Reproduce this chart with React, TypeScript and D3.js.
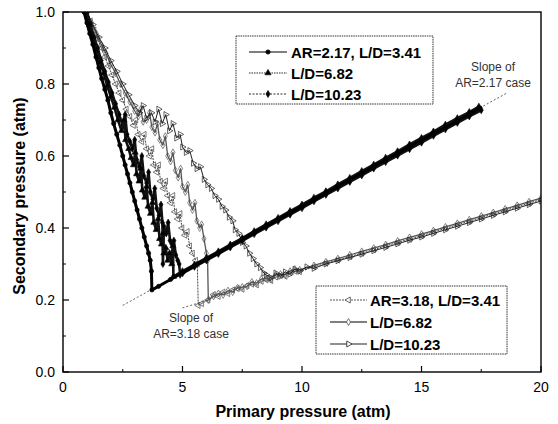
import React, { useEffect, useRef } from "react";
import * as d3 from "d3";

// axis ticks
const xTicks = [0, 5, 10, 15, 20];
const xMinor = [2.5, 7.5, 12.5, 17.5];
const yTicks = [0, 0.2, 0.4, 0.6, 0.8, 1.0];
const yMinor = [0.1, 0.3, 0.5, 0.7, 0.9];

const legendTop = ["AR=2.17, L/D=3.41", "L/D=6.82", "L/D=10.23"];
const legendBottom = ["AR=3.18, L/D=3.41", "L/D=6.82", "L/D=10.23"];

// AR=2.17 series [primary, secondary]
const ar217Ld341 = [
    [0.88, 1.0], [1.0, 0.97], [1.12, 0.94], [1.25, 0.91], [1.38, 0.875], [1.5, 0.845], [1.62, 0.815], [1.75, 0.785],
    [1.88, 0.755], [2.0, 0.72], [2.12, 0.69], [2.25, 0.66], [2.38, 0.63], [2.5, 0.6], [2.6, 0.575], [2.7, 0.55],
    [2.8, 0.525], [2.9, 0.5], [3.0, 0.475], [3.1, 0.45], [3.2, 0.425], [3.3, 0.4], [3.4, 0.375], [3.5, 0.35],
    [3.58, 0.33], [3.65, 0.31], [3.7, 0.28], [3.72, 0.228],
    [4.0, 0.238], [4.5, 0.257], [5, 0.276], [5.5, 0.295], [6, 0.313], [6.5, 0.331], [7, 0.35], [7.5, 0.368],
    [8, 0.387], [8.5, 0.405], [9, 0.424], [9.5, 0.442], [10, 0.46], [10.5, 0.479], [11, 0.497], [11.5, 0.516],
    [12, 0.534], [12.5, 0.552], [13, 0.571], [13.5, 0.589], [14, 0.607], [14.5, 0.626], [15, 0.644], [15.5, 0.662],
    [16, 0.68], [16.5, 0.698], [17, 0.716], [17.45, 0.733]
];
const ar217Ld682 = [
    [0.95, 1.0], [1.1, 0.965], [1.25, 0.93], [1.4, 0.895], [1.55, 0.86], [1.7, 0.83], [1.85, 0.795], [2.0, 0.765],
    [2.15, 0.735], [2.3, 0.7], [2.45, 0.67], [2.55, 0.7], [2.62, 0.645], [2.75, 0.62], [2.85, 0.595], [2.95, 0.575],
    [3.02, 0.61], [3.08, 0.55], [3.18, 0.53], [3.26, 0.565], [3.32, 0.505], [3.42, 0.485], [3.5, 0.515], [3.56, 0.46],
    [3.66, 0.44], [3.74, 0.47], [3.8, 0.415], [3.9, 0.395], [3.98, 0.425], [4.04, 0.37], [4.12, 0.355], [4.18, 0.385],
    [4.22, 0.33], [4.3, 0.345], [4.38, 0.31], [4.46, 0.33], [4.55, 0.3], [4.6, 0.35], [4.62, 0.265],
    [5, 0.28], [5.5, 0.298], [6, 0.317], [6.5, 0.335], [7, 0.354], [7.5, 0.372], [8, 0.391], [8.5, 0.41],
    [9, 0.428], [9.5, 0.447], [10, 0.465], [10.5, 0.484], [11, 0.502], [11.5, 0.521], [12, 0.539], [12.5, 0.558],
    [13, 0.576], [13.5, 0.595], [14, 0.613], [14.5, 0.632], [15, 0.65], [15.5, 0.668], [16, 0.687], [16.5, 0.705],
    [17, 0.722], [17.4, 0.737]
];
const ar217Ld1023 = [
    [1.0, 1.0], [1.15, 0.965], [1.3, 0.93], [1.45, 0.9], [1.6, 0.865], [1.75, 0.835], [1.9, 0.805], [2.05, 0.775],
    [2.2, 0.745], [2.35, 0.715], [2.5, 0.685], [2.6, 0.715], [2.68, 0.66], [2.8, 0.64], [2.9, 0.62], [3.0, 0.645],
    [3.08, 0.59], [3.2, 0.57], [3.3, 0.6], [3.38, 0.545], [3.5, 0.525], [3.58, 0.555], [3.65, 0.5], [3.76, 0.48],
    [3.84, 0.51], [3.92, 0.455], [4.02, 0.435], [4.1, 0.465], [4.16, 0.415], [4.18, 0.3], [4.22, 0.405], [4.32, 0.385],
    [4.4, 0.415], [4.48, 0.365], [4.56, 0.355], [4.6, 0.335], [4.64, 0.365], [4.72, 0.325], [4.8, 0.31], [4.86, 0.3],
    [4.9, 0.27], [5.0, 0.274],
    [5.5, 0.292], [6, 0.31], [6.5, 0.328], [7, 0.346], [7.5, 0.364], [8, 0.383], [8.5, 0.401], [9, 0.419],
    [9.5, 0.437], [10, 0.455], [10.5, 0.474], [11, 0.492], [11.5, 0.51], [12, 0.528], [12.5, 0.546], [13, 0.565],
    [13.5, 0.583], [14, 0.601], [14.5, 0.619], [15, 0.637], [15.5, 0.656], [16, 0.674], [16.5, 0.692], [17, 0.71],
    [17.5, 0.727]
];

// AR=3.18 series
const ar318Ld341 = [
    [1.0, 1.0], [1.15, 0.975], [1.3, 0.95], [1.45, 0.925], [1.6, 0.9], [1.75, 0.875], [1.9, 0.85], [2.05, 0.825],
    [2.2, 0.8], [2.35, 0.775], [2.5, 0.755], [2.65, 0.73], [2.8, 0.71], [2.95, 0.685], [3.05, 0.7], [3.15, 0.66],
    [3.3, 0.64], [3.4, 0.66], [3.5, 0.62], [3.62, 0.6], [3.72, 0.62], [3.8, 0.575], [3.92, 0.555], [4.0, 0.575],
    [4.08, 0.53], [4.2, 0.51], [4.3, 0.53], [4.38, 0.49], [4.5, 0.47], [4.6, 0.49], [4.68, 0.445], [4.8, 0.425],
    [4.9, 0.44], [4.98, 0.4], [5.1, 0.38], [5.2, 0.39], [5.3, 0.35], [5.42, 0.33], [5.55, 0.31], [5.62, 0.3],
    [5.66, 0.185], [5.8, 0.19], [6.07, 0.2],
    [6.3, 0.215], [6.5, 0.21], [6.7, 0.222], [6.9, 0.218], [7.1, 0.228], [7.3, 0.232], [7.5, 0.23], [7.7, 0.24],
    [7.9, 0.244], [8.1, 0.242], [8.3, 0.252], [8.5, 0.256], [8.7, 0.254], [8.9, 0.264], [9.1, 0.268], [9.3, 0.266],
    [9.5, 0.276], [9.7, 0.28], [9.9, 0.279], [10.5, 0.292], [11, 0.302], [11.5, 0.311], [12, 0.321], [12.5, 0.33],
    [13, 0.34], [13.5, 0.35], [14, 0.36], [14.5, 0.369], [15, 0.379], [15.5, 0.389], [16, 0.399], [16.5, 0.409],
    [17, 0.419], [17.5, 0.429], [18, 0.439], [18.5, 0.449], [19, 0.459], [19.5, 0.469], [20, 0.479]
];
const ar318Ld682 = [
    [1.0, 1.0], [1.2, 0.97], [1.4, 0.94], [1.6, 0.91], [1.8, 0.885], [2.0, 0.855], [2.2, 0.83], [2.4, 0.8],
    [2.6, 0.775], [2.8, 0.75], [3.0, 0.725], [3.15, 0.71], [3.25, 0.73], [3.35, 0.695], [3.5, 0.7], [3.62, 0.72],
    [3.72, 0.68], [3.85, 0.665], [3.95, 0.69], [4.05, 0.645], [4.18, 0.63], [4.28, 0.655], [4.38, 0.6], [4.5, 0.585],
    [4.6, 0.61], [4.7, 0.56], [4.82, 0.54], [4.92, 0.565], [5.0, 0.515], [5.12, 0.5], [5.22, 0.52], [5.3, 0.47],
    [5.42, 0.45], [5.52, 0.47], [5.6, 0.42], [5.72, 0.4], [5.8, 0.41], [5.9, 0.37], [6.0, 0.33], [6.05, 0.31],
    [6.08, 0.2],
    [6.3, 0.21], [6.5, 0.218], [6.7, 0.214], [6.9, 0.226], [7.1, 0.222], [7.3, 0.234], [7.5, 0.236], [7.7, 0.238],
    [7.9, 0.25], [8.1, 0.247], [8.3, 0.258], [8.5, 0.26], [8.7, 0.258], [8.9, 0.27], [9.1, 0.272], [9.3, 0.27],
    [9.5, 0.28], [9.7, 0.286], [9.9, 0.284], [10.5, 0.296], [11, 0.306], [11.5, 0.315], [12, 0.325], [12.5, 0.335],
    [13, 0.344], [13.5, 0.354], [14, 0.364], [14.5, 0.374], [15, 0.383], [15.5, 0.393], [16, 0.403], [16.5, 0.413],
    [17, 0.423], [17.5, 0.433], [18, 0.443], [18.5, 0.453], [19, 0.463], [19.5, 0.473], [20, 0.483]
];
const ar318Ld1023 = [
    [1.0, 1.0], [1.25, 0.965], [1.5, 0.93], [1.75, 0.9], [2.0, 0.865], [2.25, 0.835], [2.5, 0.8], [2.75, 0.77],
    [3.0, 0.74], [3.2, 0.72], [3.35, 0.74], [3.5, 0.705], [3.7, 0.72], [3.85, 0.695], [4.0, 0.73], [4.15, 0.69],
    [4.3, 0.715], [4.45, 0.67], [4.6, 0.69], [4.75, 0.65], [4.9, 0.66], [5.0, 0.625], [5.15, 0.61], [5.3, 0.615],
    [5.45, 0.58], [5.6, 0.565], [5.75, 0.57], [5.9, 0.535], [6.05, 0.52], [6.2, 0.51], [6.35, 0.49], [6.5, 0.48],
    [6.65, 0.46], [6.8, 0.45], [6.95, 0.43], [7.1, 0.42], [7.2, 0.395], [7.35, 0.385], [7.5, 0.36], [7.65, 0.35],
    [7.8, 0.33], [7.95, 0.315], [8.1, 0.3], [8.25, 0.29], [8.4, 0.275], [8.5, 0.27],
    [8.7, 0.262], [8.9, 0.275], [9.1, 0.266], [9.3, 0.278], [9.5, 0.272], [9.7, 0.285], [9.9, 0.28], [10.2, 0.292],
    [10.5, 0.288], [11, 0.3], [11.5, 0.309], [12, 0.318], [12.5, 0.327], [13, 0.337], [13.5, 0.346], [14, 0.356],
    [14.5, 0.366], [15, 0.375], [15.5, 0.385], [16, 0.395], [16.5, 0.405], [17, 0.415], [17.5, 0.425], [18, 0.435],
    [18.5, 0.445], [19, 0.455], [19.5, 0.465], [20, 0.475]
];

// dotted slope guides
const slope217 = [[2.5, 0.185], [18.6, 0.776]];
const slope318 = [[5.0, 0.178], [6.07, 0.2]];

export default function App() {
    const svgRef = useRef(null);

    useEffect(() => {
        const W = 558, H = 424;
        const svg = d3.select(svgRef.current);
        svg.selectAll("*").remove();
        const font = "'Liberation Sans', Arial, sans-serif";

        const x = d3.scaleLinear().domain([0, 20]).range([63, 541]);
        const y = d3.scaleLinear().domain([0, 1]).range([372, 12]);
        const line = d3.line().x(d => x(d[0])).y(d => y(d[1]));

        svg.append("rect").attr("width", W).attr("height", H).attr("fill", "#fff");

        const g = svg.append("g");
        const clip = svg.append("defs").append("clipPath").attr("id", "plotclip");
        clip.append("rect").attr("x", 63).attr("y", 12).attr("width", 478).attr("height", 360);
        const plot = g.append("g").attr("clip-path", "url(#plotclip)");

        // slope guides
        [slope217, slope318].forEach(s => {
            plot.append("path").attr("d", line(s)).attr("fill", "none")
                .attr("stroke", "#555").attr("stroke-width", 0.9).attr("stroke-dasharray", "2,2");
        });

        const triLeft = d3.symbol().type(d3.symbolTriangle).size(16)();
        const diamond = d3.symbol().type(d3.symbolDiamond).size(14)();
        const circle = d3.symbol().type(d3.symbolCircle).size(14)();
        const triUp = d3.symbol().type(d3.symbolTriangle).size(16)();

        var series = [
            { data: ar318Ld341, stroke: "#444", width: 1.0, dash: "2,1", sym: triLeft, rot: -90, fill: "none", lw: 0.9 },
            { data: ar318Ld682, stroke: "#555", width: 1.3, dash: null, sym: diamond, rot: 0, fill: "none", lw: 1.4 },
            { data: ar318Ld1023, stroke: "#222", width: 1.0, dash: null, sym: triLeft, rot: 90, fill: "none", lw: 1.1 },
            { data: ar217Ld1023, stroke: "#111", width: 2.6, dash: null, sym: diamond, rot: 0, fill: "#000", lw: 0.9, ldash: "2,1.5" },
            { data: ar217Ld682, stroke: "#111", width: 2.6, dash: null, sym: triUp, rot: 0, fill: "#000", lw: 0.9, ldash: "1.5,1" },
            { data: ar217Ld341, stroke: "#000", width: 3.0, dash: null, sym: circle, rot: 0, fill: "#000", lw: 1.2 },
        ];

        series.forEach(s => {
            plot.append("path").attr("d", line(s.data)).attr("fill", "none")
                .attr("stroke", s.stroke).attr("stroke-width", s.width)
                .attr("stroke-dasharray", s.dash).attr("stroke-linejoin", "round");
            plot.selectAll(null).data(s.data).enter().append("path")
                .attr("d", s.sym)
                .attr("transform", d => "translate(" + x(d[0]) + "," + y(d[1]) + ") rotate(" + s.rot + ")")
                .attr("fill", s.fill).attr("stroke", s.stroke).attr("stroke-width", 0.7);
        });

        // frame
        g.append("rect").attr("x", 63).attr("y", 12).attr("width", 478).attr("height", 360)
            .attr("fill", "none").attr("stroke", "#000").attr("stroke-width", 1.4);

        // ticks (inside)
        xTicks.forEach(t => g.append("line").attr("x1", x(t)).attr("x2", x(t)).attr("y1", 372).attr("y2", 366).attr("stroke", "#000").attr("stroke-width", 1.2));
        xMinor.forEach(t => g.append("line").attr("x1", x(t)).attr("x2", x(t)).attr("y1", 372).attr("y2", 369).attr("stroke", "#000"));
        yTicks.forEach(t => g.append("line").attr("x1", 63).attr("x2", 69).attr("y1", y(t)).attr("y2", y(t)).attr("stroke", "#000").attr("stroke-width", 1.2));
        yMinor.forEach(t => g.append("line").attr("x1", 63).attr("x2", 66).attr("y1", y(t)).attr("y2", y(t)).attr("stroke", "#000"));

        g.selectAll(".xt").data(xTicks).enter().append("text")
            .attr("x", d => x(d)).attr("y", 392).attr("text-anchor", "middle")
            .style("font-family", font).style("font-size", "14px").text(d => d);
        g.selectAll(".yt").data(yTicks).enter().append("text")
            .attr("x", 55).attr("y", d => y(d) + 5).attr("text-anchor", "end")
            .style("font-family", font).style("font-size", "14px").text(d => d3.format(".1f")(d));

        g.append("text").attr("x", 303).attr("y", 417).attr("text-anchor", "middle")
            .style("font-family", font).style("font-size", "16px").style("font-weight", "bold")
            .text("Primary pressure (atm)");
        g.append("text").attr("transform", "translate(25,196) rotate(-90)").attr("text-anchor", "middle")
            .style("font-family", font).style("font-size", "16px").style("font-weight", "bold")
            .text("Secondary pressure (atm)");

        // annotations
        const ann = (lines, cx, cy) => lines.forEach((t, i) => g.append("text")
            .attr("x", cx).attr("y", cy + i * 16).attr("text-anchor", "middle")
            .style("font-family", font).style("font-size", "12px").attr("fill", "#333").text(t));
        ann(["Slope of", "AR=2.17 case"], 493, 71);
        ann(["Slope of", "AR=3.18 case"], 191, 322);

        // legends
        function legend(labels, items, bx, by, bw, bh, lx0, lx1, tx, ry0, dy) {
            g.append("rect").attr("x", bx).attr("y", by).attr("width", bw).attr("height", bh)
                .attr("fill", "#fff").attr("stroke", "#333").attr("stroke-width", 1).attr("stroke-dasharray", "1.5,0.8");
            labels.forEach((lab, i) => {
                const s = items[i];
                const ry = ry0 + i * dy;
                g.append("line").attr("x1", lx0).attr("x2", lx1).attr("y1", ry).attr("y2", ry)
                    .attr("stroke", s.stroke).attr("stroke-width", s.lw).attr("stroke-dasharray", s.ldash || s.dash);
                g.append("path").attr("d", s.sym)
                    .attr("transform", "translate(" + (lx0 + lx1) / 2 + "," + ry + ") rotate(" + s.rot + ")")
                    .attr("fill", s.fill === "none" ? "#fff" : s.fill).attr("stroke", s.stroke).attr("stroke-width", 0.8);
                g.append("text").attr("x", tx).attr("y", ry + 5.5)
                    .style("font-family", font).style("font-size", "15px").style("font-weight", "bold").text(lab);
            });
        }
        legend(legendTop, [series[5], series[4], series[3]], 236, 36, 197, 68, 249, 287, 291, 52, 21);
        legend(legendBottom, [series[0], series[1], series[2]], 316, 286, 191, 68, 330, 367, 370, 300, 22);
    }, []);

    return (
        <svg ref={svgRef} width={558} height={424} style={{ position: "absolute", left: 0, top: 0 }} />
    );
}
